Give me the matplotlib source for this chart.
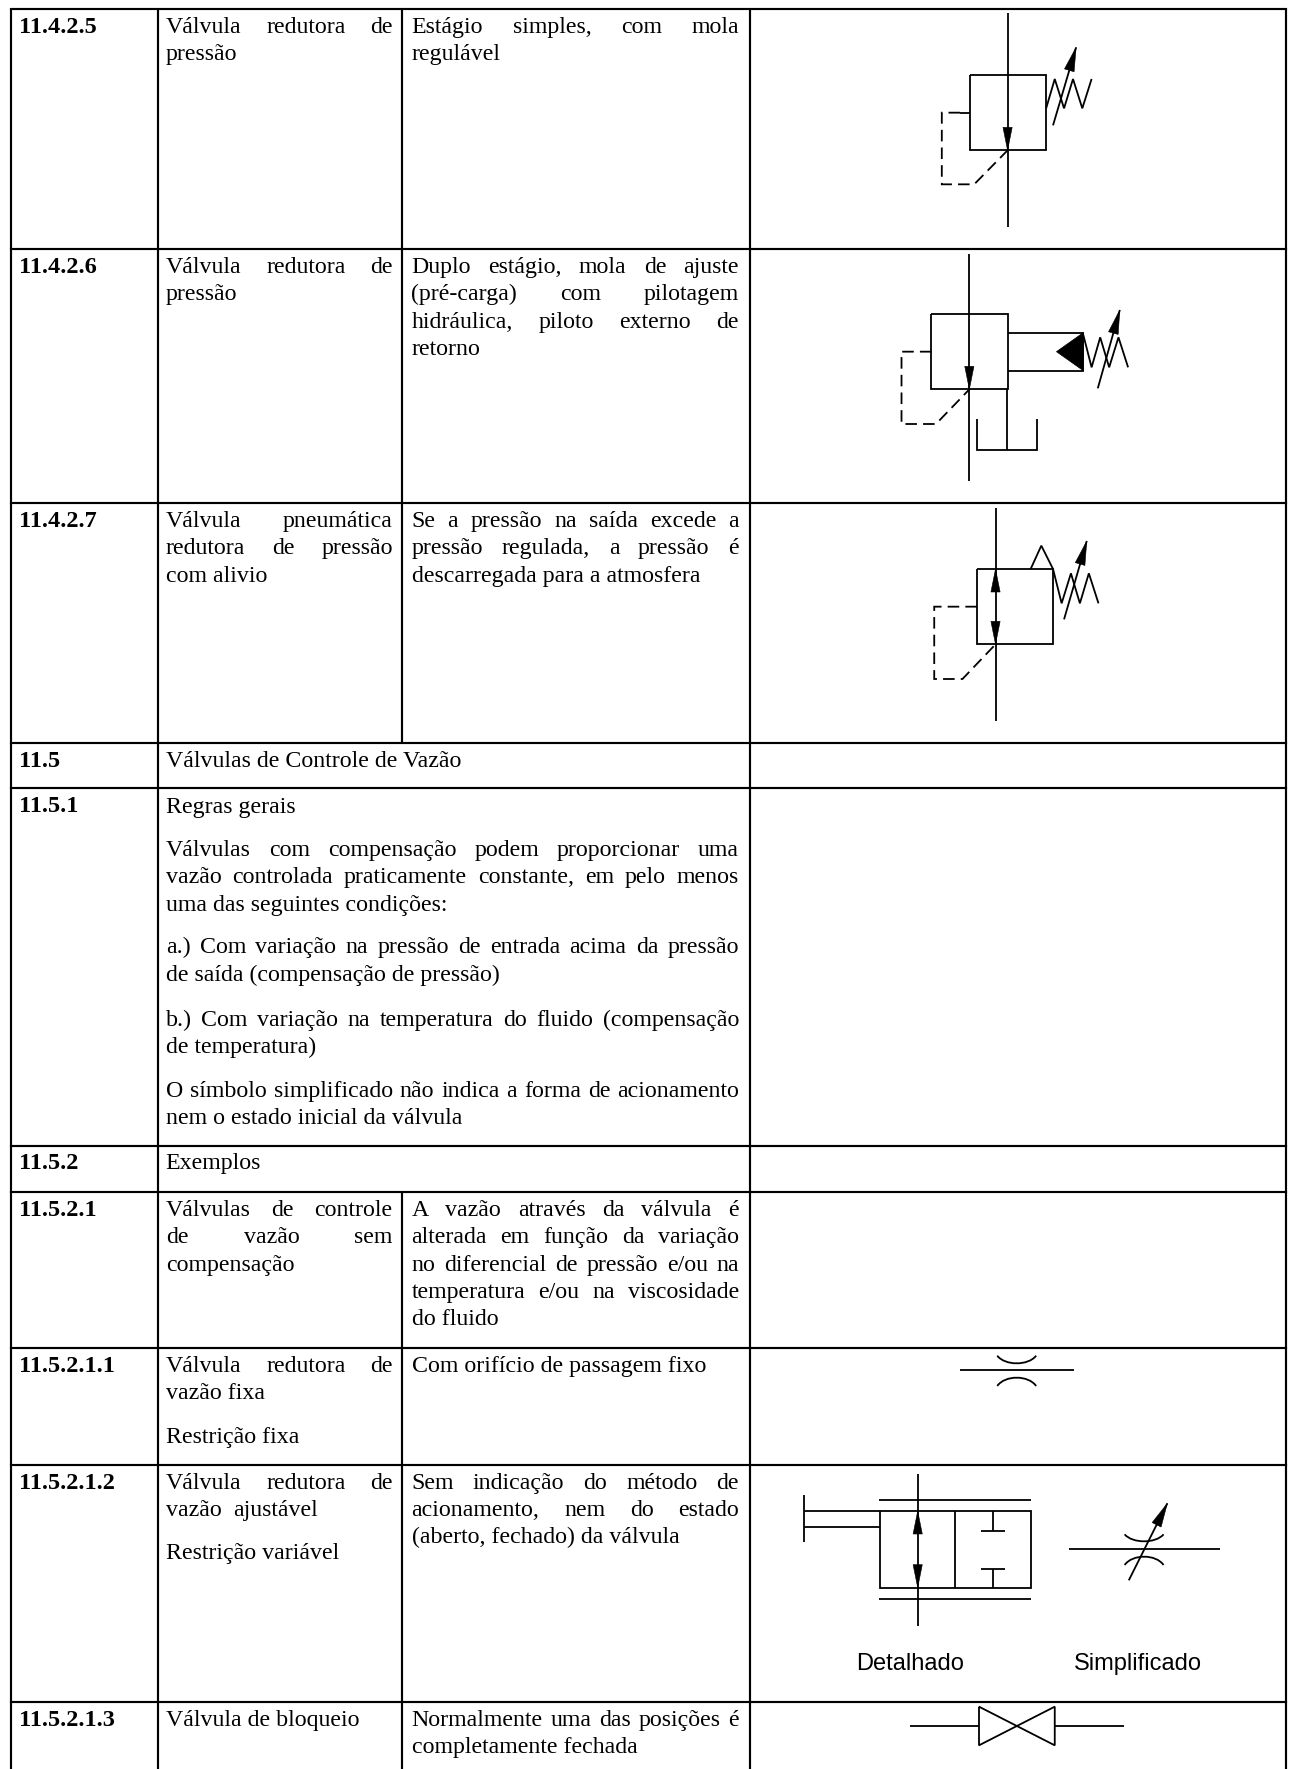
import matplotlib
matplotlib.use("Agg")
import matplotlib.pyplot as plt
from matplotlib.path import Path
from matplotlib.patches import PathPatch, Polygon
import numpy as np

W, H = 1290, 1769
SERIF = "Liberation Serif"
SANS = "Liberation Sans"
FS = 17.2
FS_BOLD = 17.5
LW_TABLE = 1.55
LW_SYM = 1.3
TEXT_DY = 1.0

# ---- table grid ----
col_x = [10.7, 157.5, 402, 749.6, 1285.5]
row_y = [9, 248.7, 503, 742.7, 787.7, 1145.7, 1191.7, 1347.7, 1465, 1701.5]
merged_rows = [3, 4, 5]          # rows where column 2/3 border is absent
C2L, C2R, C3L, C3R = 166, 392.7, 411.5, 739
WIDE_R = 739

# ---- text: (left, right-or-None, baseline, text) ----
section_ids = [
    (19.4, 32, "11.4.2.5"), (19.4, 271.7, "11.4.2.6"), (19.4, 526, "11.4.2.7"),
    (19.4, 766, "11.5"), (19.4, 810.7, "11.5.1"), (19.4, 1168, "11.5.2"),
    (19.4, 1215, "11.5.2.1"), (19.4, 1370.7, "11.5.2.1.1"),
    (19.4, 1487.7, "11.5.2.1.2"), (19.4, 1725, "11.5.2.1.3"),
]
body_lines = [
    (C2L, C2R, 32, "Válvula redutora de"),
    (C2L, None, 59.3, "pressão"),
    (C3L, C3R, 32, "Estágio simples, com mola"),
    (C3L, None, 59.3, "regulável"),
    (C2L, C2R, 271.7, "Válvula redutora de"),
    (C2L, None, 299.3, "pressão"),
    (C3L, C3R, 271.7, "Duplo estágio, mola de ajuste"),
    (C3L, C3R, 299.3, "(pré-carga) com pilotagem"),
    (C3L, C3R, 326.7, "hidráulica, piloto externo de"),
    (C3L, None, 353.7, "retorno"),
    (C2L, C2R, 526, "Válvula pneumática"),
    (C2L, C2R, 553.3, "redutora de pressão"),
    (C2L, None, 580.7, "com alivio"),
    (C3L, C3R, 526, "Se a pressão na saída excede a"),
    (C3L, C3R, 553.3, "pressão regulada, a pressão é"),
    (C3L, None, 580.7, "descarregada para a atmosfera"),
    (C2L, None, 766, "Válvulas de Controle de Vazão"),
    (C2L, None, 811.7, "Regras gerais"),
    (C2L, WIDE_R, 855, "Válvulas com compensação podem proporcionar uma"),
    (C2L, WIDE_R, 882, "vazão controlada praticamente constante, em pelo menos"),
    (C2L, None, 909.5, "uma das seguintes condições:"),
    (C2L, WIDE_R, 952.3, "a.) Com variação na pressão de entrada acima da pressão"),
    (C2L, None, 980, "de saída (compensação de pressão)"),
    (C2L, WIDE_R, 1025, "b.) Com variação na temperatura do fluido (compensação"),
    (C2L, None, 1052, "de temperatura)"),
    (C2L, WIDE_R, 1096, "O símbolo simplificado não indica a forma de acionamento"),
    (C2L, None, 1123.3, "nem o estado inicial da válvula"),
    (C2L - 0.6, None, 1168, "Exemplos"),
    (C2L, C2R, 1215, "Válvulas de controle"),
    (C2L, C2R, 1242.3, "de vazão sem"),
    (C2L, None, 1270, "compensação"),
    (C3L, C3R, 1215, "A vazão através da válvula é"),
    (C3L, C3R, 1242.3, "alterada em função da variação"),
    (C3L, C3R, 1270, "no diferencial de pressão e/ou na"),
    (C3L, C3R, 1297.3, "temperatura e/ou na viscosidade"),
    (C3L, None, 1324.3, "do fluido"),
    (C2L, C2R, 1370.7, "Válvula redutora de"),
    (C2L, None, 1397.7, "vazão fixa"),
    (C2L, None, 1441.7, "Restrição fixa"),
    (C3L, None, 1370.7, "Com orifício de passagem fixo"),
    (C2L, C2R, 1487.7, "Válvula redutora de"),
    (C2L, 318, 1514.5, "vazão ajustável"),
    (C2L, None, 1558.3, "Restrição variável"),
    (C3L, C3R, 1487.7, "Sem indicação do método de"),
    (C3L, C3R, 1514.7, "acionamento, nem do estado"),
    (C3L, None, 1542.3, "(aberto, fechado) da válvula"),
    (C2L, None, 1725, "Válvula de bloqueio"),
    (C3L, C3R, 1725, "Normalmente uma das posições é"),
    (C3L, None, 1751.7, "completamente fechada"),
]
caption_labels = [(910.5, 1670, "Detalhado"), (1137.5, 1670, "Simplificado")]

# ---- symbols, read off the zoomed crops: (crop_x, crop_y) units ----
# crop -> page: x = 750 + cx / 2.904, y = oy + cy / 3
OY1, OY2, OY3 = 0, 490, 1340

sym1_solid = [
    [(748, 40), (748, 680)],
    [(639, 225), (860, 225), (860, 451), (639, 451), (639, 225)],
    [(860, 325), (885, 237), (912, 325), (938, 237), (965, 325), (992, 237)],
    [(639, 338), (610, 338)],
]
sym1_dash = [[(610, 338), (557, 338), (557, 553), (651, 553), (748, 451)]]
sym1_heads = [[(748, 382), (748, 451)]]
sym1_adj = [[(880, 376), (947, 142)]]

sym2_solid = [
    [(637, 762), (637, 1442)],
    [(527, 942), (748, 942), (748, 1168), (527, 1168), (527, 942)],
    [(748, 998), (968, 998), (968, 1112), (748, 1112)],
    [(968, 1005), (992, 1102), (1017, 1012), (1043, 1102), (1070, 1012), (1098, 1102)],
    [(747, 1168), (747, 1350)],
    [(659, 1258), (659, 1350), (834, 1350), (834, 1258)],
]
sym2_dash = [[(527, 1055), (440, 1055), (440, 1272), (540, 1272), (637, 1168)]]
sym2_heads = [[(637, 1100), (637, 1168)]]
sym2_adj = [[(1010, 1165), (1074, 930)]]
sym2_fill = [(890, 1055), (968, 998), (968, 1112)]

sym3_solid = [
    [(713, 55), (713, 692)],
    [(659, 237), (880, 237), (880, 463), (659, 463), (659, 237)],
    [(815, 237), (846, 167), (880, 237)],
    [(880, 237), (905, 340), (932, 250), (958, 340), (984, 250), (1012, 340)],
]
sym3_dash = [[(659, 350), (535, 350), (535, 567), (617, 567), (713, 463)]]
sym3_heads = [[(713, 305), (713, 237)], [(713, 395), (713, 463)]]
sym3_adj = [[(912, 388), (978, 153)]]

sym4_solid = [[(609, 91), (941, 91)]]
sym4_arcs = [(718, 831, 47, 70), (718, 831, 138, 113)]

sym5_solid = [
    [(487, 402), (487, 858)],
    [(375, 479), (816, 479)],
    [(375, 776), (816, 776)],
    [(377, 513), (816, 513), (816, 743), (377, 743), (377, 513)],
    [(596, 513), (596, 743)],
    [(157, 513), (377, 513)],
    [(157, 560), (377, 560)],
    [(157, 466), (157, 605)],
    [(707, 513), (707, 572)], [(671, 572), (741, 572)],
    [(707, 743), (707, 687)], [(671, 687), (741, 687)],
    [(925, 627), (1366, 627)],
]
sym5_heads = [[(487, 582), (487, 513)], [(487, 672), (487, 743)]]
sym5_arcs = [(1088, 1201, 583, 604), (1088, 1201, 675, 650)]
sym5_adj = [[(1100, 721), (1212, 490)]]

sym6_solid = [
    [(465, 1158), (665, 1158)],
    [(665, 1100), (885, 1216), (885, 1100), (665, 1216), (665, 1100)],
    [(885, 1158), (1085, 1158)],
]

fig = plt.figure(figsize=(W / 100, H / 100), dpi=100, facecolor="white")
ax = fig.add_axes([0, 0, 1, 1])
ax.set_xlim(0, W)
ax.set_ylim(H, 0)
ax.axis("off")
renderer = fig.canvas.get_renderer()


def page(points, oy):
    a = np.asarray(points, float)
    return 750 + a[:, 0] / 2.904, oy + a[:, 1] / 3.0


def solid(lines, oy):
    for ln in lines:
        x, y = page(ln, oy)
        ax.plot(x, y, color="black", lw=LW_SYM, solid_joinstyle="miter",
                solid_capstyle="butt")


def dashed(lines, oy):
    for ln in lines:
        x, y = page(ln, oy)
        ax.plot(x, y, color="black", lw=LW_SYM, linestyle=(0, (6.4, 3.4)),
                dash_capstyle="butt", dash_joinstyle="miter")


def head(tip, direction, length=23, half=4.6):
    d = direction / np.hypot(*direction)
    n = np.array([-d[1], d[0]])
    base = tip - d * length
    ax.add_patch(Polygon([tip, base + n * half, base - n * half], closed=True,
                         fc="black", ec="black", lw=0.4))


def heads(lines, oy):
    for ln in lines:
        x, y = page(ln, oy)
        tip = np.array([x[1], y[1]])
        head(tip, tip - np.array([x[0], y[0]]))


def adjust(lines, oy):
    for ln in lines:
        x, y = page(ln, oy)
        ax.plot(x, y, color="black", lw=LW_SYM, solid_capstyle="butt")
        tip = np.array([x[1], y[1]])
        head(tip, tip - np.array([x[0], y[0]]), length=24, half=5)


def arcs(items, oy):
    for x0, x1, y_end, y_mid in items:
        (px0, px1), (py, pm) = page([(x0, y_end), (x1, y_mid)], oy)
        ctrl = py + (pm - py) * 4 / 3
        w = px1 - px0
        verts = [(px0, py), (px0 + .2 * w, ctrl), (px1 - .2 * w, ctrl), (px1, py)]
        ax.add_patch(PathPatch(Path(verts, [Path.MOVETO, Path.CURVE4, Path.CURVE4, Path.CURVE4]),
                               fc="none", ec="black", lw=LW_SYM))


# grid
for y in row_y:
    ax.plot([col_x[0], col_x[-1]], [y, y], color="black", lw=LW_TABLE, solid_capstyle="projecting")
for i in (0, 1, 3, 4):
    ax.plot([col_x[i], col_x[i]], [row_y[0], H], color="black", lw=LW_TABLE, solid_capstyle="butt")
for r in range(len(row_y)):
    if r in merged_rows:
        continue
    y0 = row_y[r]
    y1 = row_y[r + 1] if r + 1 < len(row_y) else H
    ax.plot([col_x[2], col_x[2]], [y0, y1], color="black", lw=LW_TABLE, solid_capstyle="butt")


def text_width(s, t):
    w, _, _ = renderer.get_text_width_height_descent(s, t.get_fontproperties(), False)
    return w


def put_line(x0, x1, y, s):
    y = y + TEXT_DY
    if x1 is None:
        ax.text(x0, y, s, family=SERIF, fontsize=FS, va="baseline", ha="left", color="black")
        return
    words = s.split()
    arts = [ax.text(x0, y, w, family=SERIF, fontsize=FS, va="baseline", ha="left", color="black")
            for w in words]
    widths = [text_width(w, a) for w, a in zip(words, arts)]
    gap = (x1 - x0 - sum(widths)) / (len(words) - 1)
    x = x0
    for a, wd in zip(arts, widths):
        a.set_x(x)
        x += wd + gap


for x, y, s in section_ids:
    ax.text(x, y + TEXT_DY, s, family=SERIF, weight="bold", fontsize=FS_BOLD, va="baseline",
            ha="left", color="black")
for x0, x1, y, s in body_lines:
    put_line(x0, x1, y, s)
for x, y, s in caption_labels:
    ax.text(x, y, s, family=SANS, fontsize=17, va="baseline", ha="center", color="black")

# symbols
solid(sym1_solid, OY1); dashed(sym1_dash, OY1); heads(sym1_heads, OY1); adjust(sym1_adj, OY1)
solid(sym2_solid, OY1); dashed(sym2_dash, OY1); heads(sym2_heads, OY1); adjust(sym2_adj, OY1)
fx, fy = page(sym2_fill, OY1)
ax.add_patch(Polygon(np.c_[fx, fy], closed=True, fc="black", ec="black", lw=0.5))
solid(sym3_solid, OY2); dashed(sym3_dash, OY2); heads(sym3_heads, OY2); adjust(sym3_adj, OY2)
solid(sym4_solid, OY3); arcs(sym4_arcs, OY3)
solid(sym5_solid, OY3); heads(sym5_heads, OY3); arcs(sym5_arcs, OY3); adjust(sym5_adj, OY3)
solid(sym6_solid, OY3)

fig.savefig("out.png", dpi=100, facecolor="white")
